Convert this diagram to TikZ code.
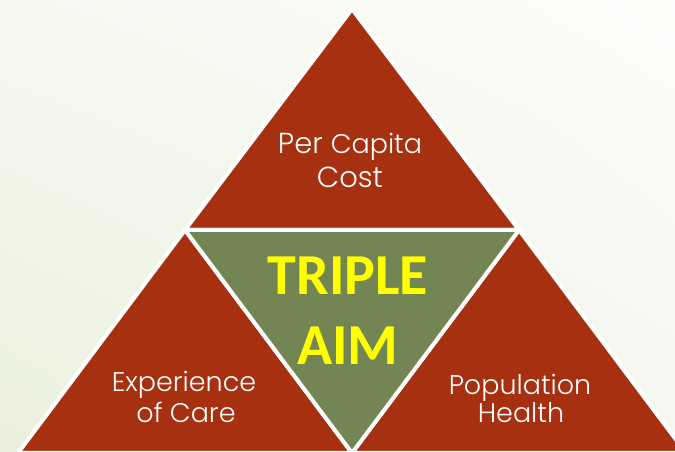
\documentclass[tikz,border=0pt]{standalone}
\usepackage{fontspec}
\usetikzlibrary{shadings}
\IfFontExistsTF{Poppins Light}{\newfontfamily\thinfont{Poppins Light}}{\newfontfamily\thinfont{Poppins}}
\newfontfamily\boldfont{Carlito}[UprightFont=* Bold]
\definecolor{aimred}{RGB}{166,48,16}
\definecolor{aimgreen}{RGB}{115,133,82}
\definecolor{aimyellow}{RGB}{255,255,0}
\definecolor{bgll}{RGB}{234,240,220}
\definecolor{bgul}{RGB}{246,248,240}
\definecolor{bglr}{RGB}{245,246,239}
\definecolor{bgur}{RGB}{252,252,250}
\tikzset{
  tri/.style={draw=white, line width=4pt, line join=miter},
  redtri/.style={tri, fill=aimred},
  greentri/.style={tri, fill=aimgreen},
  lbl/.style={text=white, font=\thinfont\fontsize{27}{30}\selectfont, anchor=base, inner sep=0pt},
  toplbl/.style={lbl, font=\thinfont\fontsize{29}{30}\selectfont},
  aim/.style={text=aimyellow, font=\boldfont\fontsize{58}{60}\selectfont, anchor=base, inner sep=0pt}
}
\begin{document}
\begin{tikzpicture}[x=1pt,y=1pt]
\useasboundingbox (0,0) rectangle (675,452);
\clip (0,0) rectangle (675,452);
\shade[lower left=bgll, upper left=bgul, lower right=bglr, upper right=bgur] (0,0) rectangle (675,452);
\coordinate (A) at (352,443);
\coordinate (L) at (185,222);
\coordinate (R) at (519,222);
\coordinate (G) at (352,-1);
\coordinate (BL) at (18,-1);
\coordinate (BR) at (686,-1);
\draw[redtri] (A) -- (L) -- (R) -- cycle;
\draw[redtri] (L) -- (BL) -- (G) -- cycle;
\draw[redtri] (R) -- (G) -- (BR) -- cycle;
\draw[greentri] (L) -- (R) -- (G) -- cycle;
\node[toplbl] (per) at (350,298) {Per {\fontsize{27}{30}\selectfont Capita}};
\node[toplbl] (cost) at (350,264) {Cost};
\node[lbl] (exp) at (184,60) {Experience};
\node[lbl] (care) at (186,29) {of Care};
\node[lbl] (pop) at (520,57) {Population};
\node[lbl] (hea) at (521,29) {Health};
\node[aim] (triple) at (348,157) {TRIPLE};
\node[aim] (aimw) at (348,87) {AIM};
\end{tikzpicture}
\end{document}
